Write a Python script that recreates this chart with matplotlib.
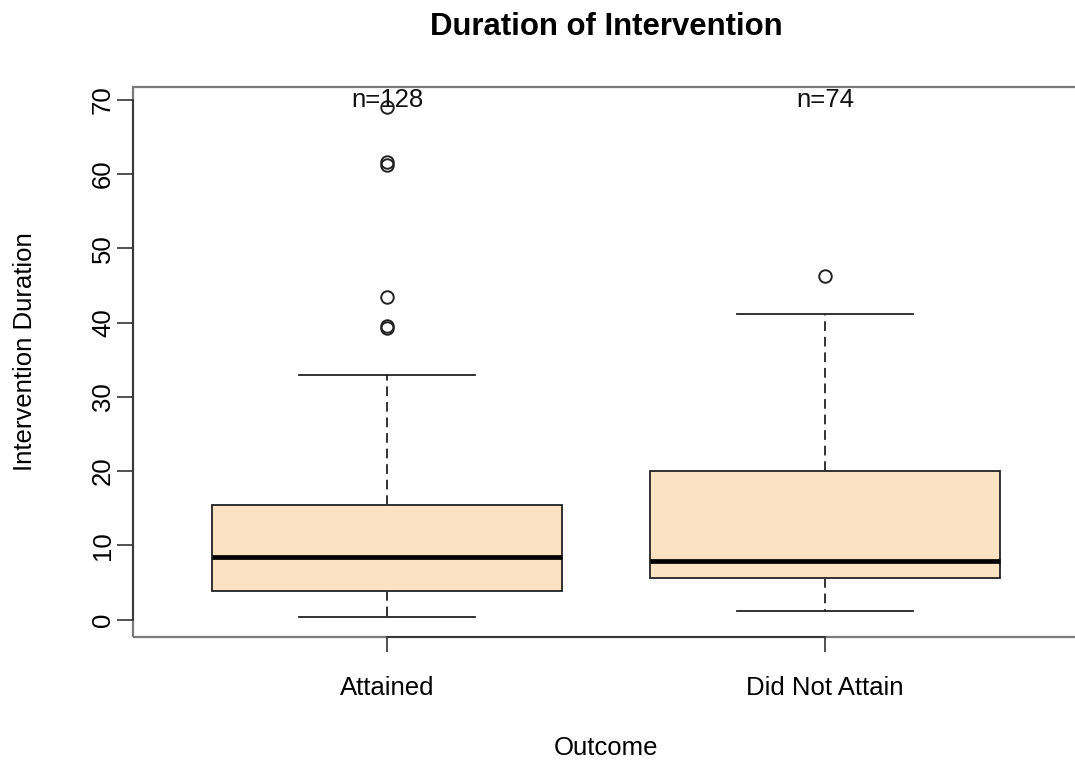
import matplotlib.pyplot as plt
from matplotlib.patches import Rectangle

# R-like look with Arial-metric font
plt.rcParams['font.family'] = ['Liberation Sans', 'DejaVu Sans']

# Data
groups = ["Attained", "Did Not Attain"]
counts = [128, 74]
whisker_low = [0.4, 1.1]
q1 = [3.8, 5.6]
median = [8.5, 7.9]
q3 = [15.5, 20.0]
whisker_high = [32.9, 41.1]
outliers = [[69.0, 61.3, 61.6, 43.5, 39.3, 39.5], [46.3]]
yticks = [0, 10, 20, 30, 40, 50, 60, 70]

stats = []
for i, name in enumerate(groups):
    stats.append({
        "label": name,
        "whislo": whisker_low[i], "q1": q1[i], "med": median[i],
        "q3": q3[i], "whishi": whisker_high[i], "fliers": outliers[i],
    })

fig = plt.figure(figsize=(10.75, 7.63), dpi=100)
ax = fig.add_axes([133 / 1075, 1 - 637 / 763, 946 / 1075, 550 / 763])

positions = list(range(1, len(groups) + 1))
ax.bxp(stats, positions=positions, widths=0.8, patch_artist=True,
       boxprops=dict(facecolor="#FBE2C3", edgecolor="#222222", linewidth=1.3),
       medianprops=dict(color="black", linewidth=3.4, solid_capstyle="butt"),
       whiskerprops=dict(color="#333333", linewidth=1.4, linestyle=(0, (5, 3))),
       capprops=dict(color="#222222", linewidth=1.3),
       capwidths=0.4,
       flierprops=dict(marker="o", markerfacecolor="none", markeredgecolor="#222222",
                       markersize=9, markeredgewidth=1.4))

# sample sizes at the top
for p, n in zip(positions, counts):
    ax.text(p, 70, f"n={n}", ha="center", va="center", fontsize=18.5, color="#111111")

ax.set_xlim(0.42, 2.58)
ax.set_ylim(-2.34, 71.74)
ax.set_yticks(yticks)
ax.set_xticks(positions)
ax.set_xticklabels(groups)

# axis lines only between first and last tick, grey frame around
for side in ["top", "right"]:
    ax.spines[side].set_visible(False)
ax.spines["left"].set_bounds(yticks[0], yticks[-1])
ax.spines["bottom"].set_bounds(positions[0], positions[-1])
for side in ["left", "bottom"]:
    ax.spines[side].set_color("#333333")
    ax.spines[side].set_linewidth(1.3)
ax.add_patch(Rectangle((0, 0), 1, 1, transform=ax.transAxes, fill=False,
                       edgecolor="#7a7a7a", linewidth=1.6, clip_on=False, zorder=0.5))

ax.tick_params(axis="y", length=11.5, width=1.2, color="#333333", pad=1.5,
               labelsize=18.5, labelrotation=90)
for lbl in ax.get_yticklabels():
    lbl.set_va("center")
ax.tick_params(axis="x", length=11, width=1.2, color="#333333", pad=17, labelsize=18.5)

fig.text(606 / 1075, 1 - 27 / 763, "Duration of Intervention", ha="center", va="center",
         fontsize=22.4, fontweight="bold")
fig.text(606 / 1075, 1 - 748 / 763, "Outcome", ha="center", va="center", fontsize=18.5)
fig.text(25 / 1075, 1 - 352 / 763, "Intervention Duration", ha="center", va="center",
         rotation=90, fontsize=18.5)

fig.savefig("out.png", dpi=100)
